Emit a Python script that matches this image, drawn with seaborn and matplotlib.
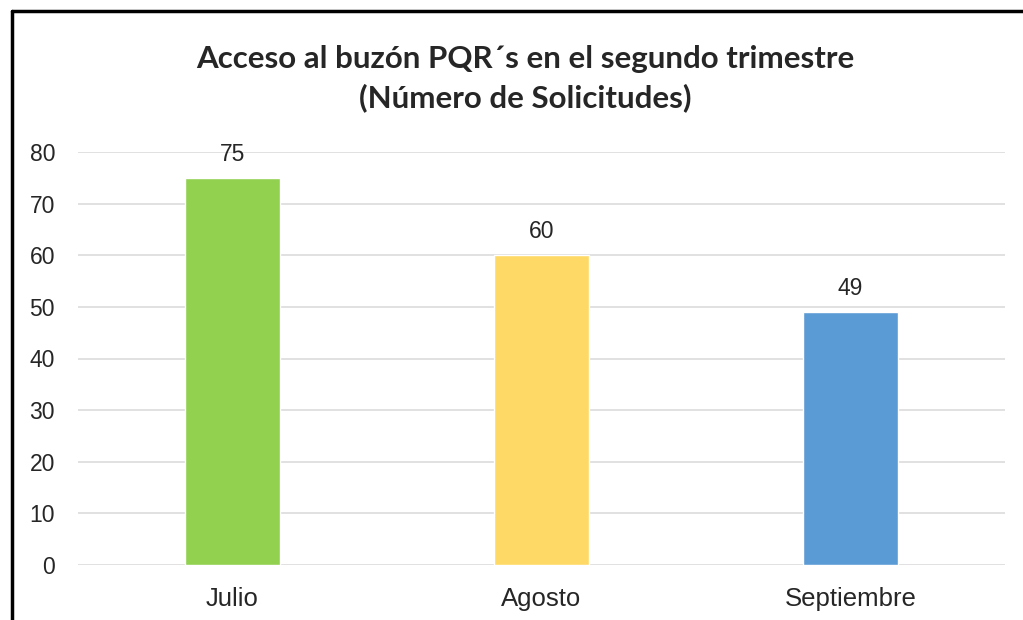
import seaborn as sns
import matplotlib.pyplot as plt
import pandas as pd

meses = ["Julio", "Agosto", "Septiembre"]
solicitudes = [75, 60, 49]
colores = ["#92D050", "#FFD966", "#5B9BD5"]

df = pd.DataFrame({"Mes": meses, "Solicitudes": solicitudes})

sns.set_theme(style="white")
plt.rcParams['font.family'] = ['Liberation Sans', 'DejaVu Sans']

fig = plt.figure(figsize=(10.23, 6.2), dpi=100)
ax = fig.add_axes([78 / 1023, 1 - 565 / 620, 927 / 1023, (565 - 152) / 620])

sns.barplot(data=df, x="Mes", y="Solicitudes", hue="Mes", palette=colores,
            width=0.31, legend=False, ax=ax, saturation=1)

ax.set_ylim(0, 80)
ax.set_yticks(range(0, 81, 10))
ax.yaxis.grid(True, color="#D9D9D9", linewidth=1.1)
ax.set_axisbelow(True)
for s in ax.spines.values():
    s.set_visible(False)
ax.tick_params(axis="both", length=0, colors="#262626")
ax.tick_params(axis="y", pad=16.5, labelsize=16.5)
ax.tick_params(axis="x", pad=15.5, labelsize=18.5)
ax.set_xlabel("")
ax.set_ylabel("")
ax.set_xlim(-0.5, 2.5)

for c in ax.containers:
    ax.bar_label(c, padding=8.5, fontsize=16.5, color="#262626")

fig.text(0.513, 1 - 78.5 / 620, "Acceso al buzón PQR´s en el segundo trimestre\n(Número de Solicitudes)",
         ha="center", va="center", fontsize=22.5, fontweight="bold",
         family=["Lato", "DejaVu Sans"], linespacing=1.42)

# marco negro (solo izquierda y arriba visibles)
fig.add_artist(plt.Line2D([12 / 1023, 12 / 1023], [0, 1 - 11 / 620], color="black",
                          linewidth=2.5, transform=fig.transFigure))
fig.add_artist(plt.Line2D([12 / 1023, 1], [1 - 11 / 620, 1 - 11 / 620], color="black",
                          linewidth=2.5, transform=fig.transFigure))

fig.savefig("out.png", dpi=100)
